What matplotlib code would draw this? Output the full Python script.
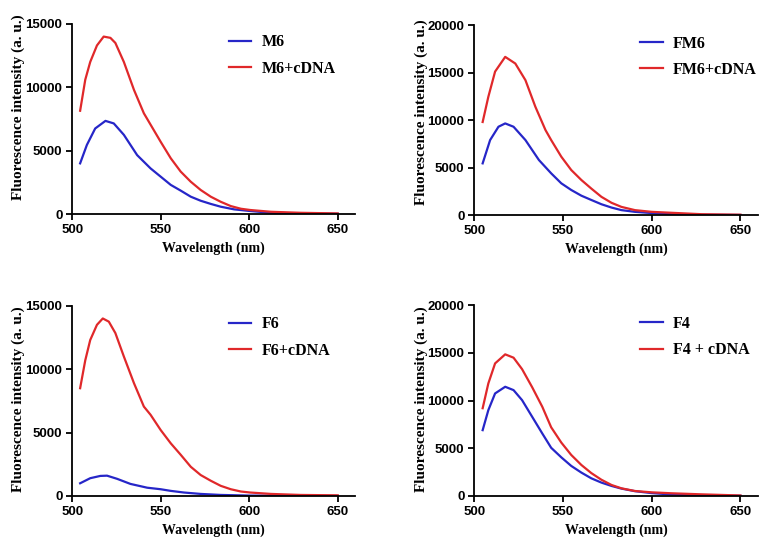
import numpy as np
import matplotlib.pyplot as plt

# panel 1: M6
wl_m6c = [504.5, 507.4, 510.2, 514, 517.8, 521.6, 524.4, 529.2, 534.9, 540.5, 550, 555.7, 561.3,
          567, 572.6, 578.3, 583.9, 589.6, 595.3, 600.6, 612.3, 629, 650]
m6_cdna = [8150, 10600, 12000, 13300, 14000, 13900, 13500, 12000, 9800, 7950, 5700, 4400, 3350,
           2550, 1900, 1370, 970, 630, 420, 320, 180, 100, 50]
wl_m6 = [504.5, 508.3, 513, 518.8, 523.5, 529.2, 536.7, 544.3, 550, 555.7, 561.3, 567, 572.6,
         578.3, 583.9, 591.5, 600.6, 612.3, 630, 650]
m6 = [4000, 5450, 6750, 7350, 7150, 6250, 4650, 3600, 2950, 2300, 1850, 1370, 1050,
      800, 580, 370, 240, 100, 50, 20]

# panel 2: FM6
wl_fm6c = [504.8, 508, 511.8, 517.5, 523.2, 528.9, 534.5, 540.2, 543.4, 549.1, 554.7, 560.4, 566,
           571.7, 577.4, 583, 590.6, 600, 611.3, 628.3, 650]
fm6_cdna = [9800, 12450, 15100, 16650, 15950, 14200, 11400, 8950, 7900, 6150, 4750, 3700, 2800,
            1930, 1300, 870, 530, 350, 250, 100, 50]
wl_fm6 = [504.8, 509, 513.7, 517.5, 522.2, 528.9, 536.5, 543.4, 549.1, 554.7, 560.4, 566, 571.7,
          577.4, 583, 590.6, 598, 611, 630, 650]
fm6 = [5450, 7900, 9300, 9650, 9300, 7900, 5800, 4400, 3350, 2650, 2050, 1600, 1150,
       800, 530, 350, 250, 100, 40, 20]

# panel 3: F6
wl_f6c = [504.5, 507.4, 510.2, 514, 517.3, 520.7, 524.4, 529.2, 534.9, 540.5, 544.3, 550, 555.7,
          561.3, 567, 572.6, 578.3, 583.9, 589.6, 595.3, 600.6, 612.3, 629, 650]
f6_cdna = [8500, 10700, 12300, 13500, 14000, 13750, 12850, 11000, 8900, 7050, 6400, 5200, 4150,
           3250, 2300, 1650, 1200, 800, 530, 350, 270, 160, 80, 50]
wl_f6 = [504.5, 510.2, 515.9, 519.7, 525.4, 532.9, 542.4, 550, 555.7, 563.2, 572.6, 583.9, 600, 625, 650]
f6 = [1000, 1400, 1580, 1600, 1350, 950, 650, 530, 400, 270, 160, 80, 30, 10, 0]

# panel 4: F4 (same wavelength grid for both)
wl_f4 = [504.8, 508, 511.8, 517.5, 522.2, 527, 532.7, 538.4, 543.4, 549.1, 554.7, 560.4, 566,
         571.7, 577.4, 583, 590.6, 600, 611.3, 628, 650]
f4_cdna = [9200, 11800, 13900, 14850, 14500, 13300, 11400, 9350, 7200, 5600, 4300, 3250, 2400,
           1700, 1150, 800, 520, 380, 280, 170, 50]
f4 = [6900, 9000, 10750, 11450, 11100, 10050, 8300, 6550, 5050, 4050, 3150, 2450, 1850,
      1400, 1050, 770, 500, 300, 150, 50, 20]

panels = [
    (wl_m6, m6, wl_m6c, m6_cdna, "M6", "M6+cDNA", 15000),
    (wl_fm6, fm6, wl_fm6c, fm6_cdna, "FM6", "FM6+cDNA", 20000),
    (wl_f6, f6, wl_f6c, f6_cdna, "F6", "F6+cDNA", 15000),
    (wl_f4, f4, wl_f4, f4_cdna, "F4", "F4 + cDNA", 20000),
]
rects = [
    [0.093, 0.615, 0.365, 0.342],
    [0.611, 0.613, 0.366, 0.342],
    [0.093, 0.108, 0.365, 0.342],
    [0.611, 0.108, 0.366, 0.343],
]
leg_x = [0.502, 0.535, 0.502, 0.535]
ylab_pos = [(-0.166, 0.56), (-0.162, 0.54), (-0.166, 0.51), (-0.162, 0.51)]

blue = "#2626c8"
red = "#e0282a"
serif = "Liberation Serif"
sans = "Liberation Sans"

fig = plt.figure(figsize=(7.76, 5.56), dpi=100)
for rect, lx, yl, (xb, yb, xr, yr, lb, lr, ymax) in zip(rects, leg_x, ylab_pos, panels):
    ax = fig.add_axes(rect)
    ax.plot(xb, yb, color=blue, lw=1.6, label=lb)
    ax.plot(xr, yr, color=red, lw=1.6, label=lr)
    ax.set_xlim(500, 660)
    ax.set_ylim(0, ymax)
    ax.set_xticks([500, 550, 600, 650])
    ax.set_yticks(np.arange(0, ymax + 1, 5000))
    for s in ["top", "right"]:
        ax.spines[s].set_visible(False)
    for s in ["left", "bottom"]:
        ax.spines[s].set_linewidth(1.3)
    ax.tick_params(direction="out", length=4, width=1.3, pad=3)
    for lab in ax.get_xticklabels() + ax.get_yticklabels():
        lab.set_fontfamily(sans)
        lab.set_fontweight("bold")
        lab.set_fontsize(9.5)
    ax.set_xlabel("Wavelength (nm)", fontfamily=serif, fontweight="bold", fontsize=10, labelpad=4)
    ax.set_ylabel("Fluorescence intensity (a. u.)", fontfamily=serif, fontweight="bold", fontsize=11)
    ax.yaxis.set_label_coords(*yl)
    ax.legend(loc="upper left", bbox_to_anchor=(lx, 1.02), frameon=False,
              prop={"family": serif, "weight": "bold", "size": 11.5},
              handlelength=1.4, handletextpad=0.65, labelspacing=0.65)

fig.savefig("out.png", dpi=100)
